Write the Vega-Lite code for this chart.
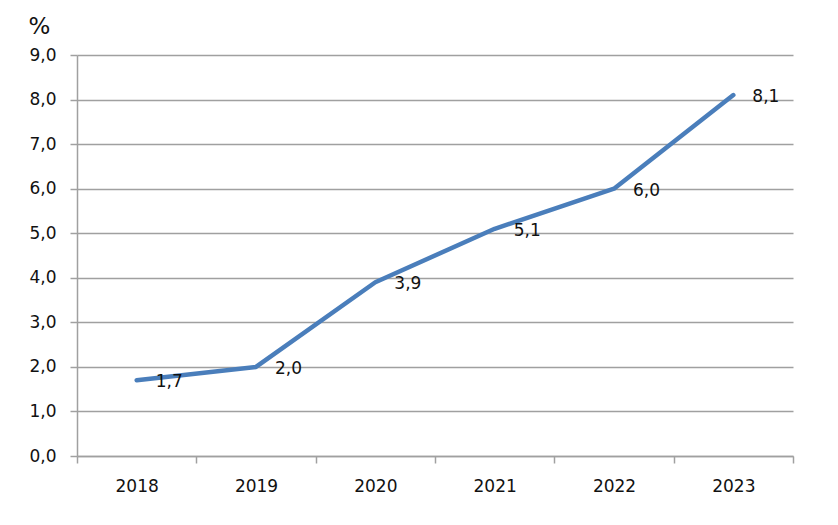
{
  "$schema": "https://vega.github.io/schema/vega-lite/v6.json",
  "width": 716,
  "height": 401,
  "autosize": "none",
  "padding": {"left": 77, "top": 55, "right": 45, "bottom": 69},
  "background": "white",
  "config": {
    "locale": {"number": {"decimal": ",", "thousands": " ", "grouping": [3], "currency": ["", ""]}},
    "view": {"stroke": null},
    "font": "DejaVu Sans"
  },
  "data": {"values": [
    {"year": "2018", "value": 1.7},
    {"year": "2019", "value": 2.0},
    {"year": "2020", "value": 3.9},
    {"year": "2021", "value": 5.1},
    {"year": "2022", "value": 6.0},
    {"year": "2023", "value": 8.1}
  ]},
  "encoding": {
    "x": {
      "field": "year", "type": "ordinal",
      "scale": {"type": "band", "paddingInner": 0, "paddingOuter": 0},
      "axis": {
        "title": null, "labelAngle": 0, "labelFont": "DejaVu Sans", "labelFontSize": 17,
        "labelColor": "#111", "labelPadding": 15, "tickBand": "extent", "tickSize": 7,
        "tickColor": "#a0a0a0", "domainColor": "#a0a0a0", "grid": false, "tickWidth": 1.5, "domainWidth": 1.5
      }
    },
    "y": {
      "field": "value", "type": "quantitative",
      "scale": {"domain": [0, 9], "nice": false},
      "axis": {
        "values": [0, 1, 2, 3, 4, 5, 6, 7, 8, 9], "format": ".1f",
        "title": "%", "titleAngle": 0, "titleX": -38, "titleY": -29, "titleAlign": "center",
        "titleBaseline": "middle", "titleFont": "DejaVu Sans", "titleFontSize": 23, "titleFontWeight": "normal",
        "titleColor": "#111",
        "labelFont": "DejaVu Sans", "labelFontSize": 17, "labelColor": "#111", "labelPadding": 14,
        "tickSize": 7, "tickColor": "#a0a0a0", "tickWidth": 1.5, "domainColor": "#a0a0a0", "domainWidth": 1.5,
        "grid": true, "gridColor": "#a0a0a0", "gridWidth": 1.5
      }
    }
  },
  "layer": [
    {
      "mark": {"type": "line", "color": "#4a7ebb", "strokeWidth": 4.5, "strokeCap": "round", "strokeJoin": "round"}
    },
    {
      "mark": {"type": "text", "align": "left", "baseline": "middle", "dx": 19, "dy": 2, "fontSize": 17, "font": "DejaVu Sans", "color": "#111"},
      "encoding": {"text": {"field": "value", "type": "quantitative", "format": ".1f"}}
    }
  ]
}
